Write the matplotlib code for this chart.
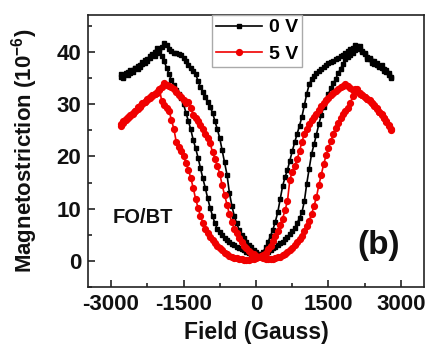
import matplotlib
matplotlib.use("Agg")
import matplotlib.pyplot as plt
from matplotlib.ticker import MultipleLocator

plt.rcParams["font.family"] = ["Liberation Sans", "DejaVu Sans"]
plt.rcParams["font.weight"] = "bold"
plt.rcParams["axes.unicode_minus"] = False
plt.rcParams["mathtext.fontset"] = "custom"
plt.rcParams["mathtext.rm"] = "Liberation Sans:bold"
plt.rcParams["mathtext.it"] = "Liberation Sans:bold"
plt.rcParams["mathtext.bf"] = "Liberation Sans:bold"

# field grid (Gauss), shared by all sweeps
FIELD = [-2800, -2750, -2700, -2650, -2600, -2550, -2500, -2450, -2400, -2350,
         -2300, -2250, -2200, -2150, -2100, -2050, -2000, -1950, -1900, -1850,
         -1800, -1750, -1700, -1650, -1600, -1550, -1500, -1450, -1400, -1350,
         -1300, -1250, -1200, -1150, -1100, -1050, -1000, -950, -900, -850,
         -800, -750, -700, -650, -600, -550, -500, -450, -400, -350,
         -300, -250, -200, -150, -100, -50, 0, 50, 100, 150,
         200, 250, 300, 350, 400, 450, 500, 550, 600, 650,
         700, 750, 800, 850, 900, 950, 1000, 1050, 1100, 1150,
         1200, 1250, 1300, 1350, 1400, 1450, 1500, 1550, 1600, 1650,
         1700, 1750, 1800, 1850, 1900, 1950, 2000, 2050, 2100, 2150,
         2200, 2250, 2300, 2350, 2400, 2450, 2500, 2550, 2600, 2650,
         2700, 2750, 2800]

# 0 V: descending sweep (listed low->high field) and ascending sweep
BLACK_DOWN = [35.3, 35.0, 35.8, 36.2, 35.9, 36.6, 37.0, 36.8, 37.6, 38.1,
              37.9, 38.7, 39.2, 39.6, 40.1, 40.8, 40.2, 39.3, 38.2, 37.0,
              35.8, 34.6, 33.6, 32.8, 32.0, 31.2, 30.0, 28.4, 26.8, 25.2,
              23.2, 21.6, 19.8, 17.8, 15.8, 14.0, 12.0, 10.2, 8.6, 7.2,
              6.1, 5.6, 5.0, 4.4, 4.0, 3.7, 3.3, 3.0, 2.7, 2.5,
              2.2, 2.0, 1.8, 1.6, 1.4, 1.3, 1.2, 1.1, 1.3, 1.8,
              2.6, 3.6, 4.8, 6.0, 7.5, 9.3, 11.8, 14.3, 16.0, 17.4,
              19.2, 21.0, 22.7, 24.3, 25.9, 27.6, 29.8, 32.0, 33.8, 34.8,
              35.4, 35.9, 36.4, 36.8, 37.2, 37.5, 37.9, 38.1, 38.3, 38.6,
              38.9, 39.2, 39.5, 39.9, 40.2, 40.5, 40.8, 41.4, 40.8, 41.2,
              40.0, 39.6, 39.1, 38.6, 38.0, 38.3, 37.6, 37.3, 37.5, 36.7,
              36.2, 35.9, 35.3]
BLACK_UP = [35.8, 35.2, 36.0, 35.6, 36.5, 36.1, 36.9, 37.4, 37.1, 37.8,
            38.5, 38.2, 38.9, 39.5, 39.2, 39.9, 40.5, 40.9, 41.8, 41.3,
            40.6, 40.2, 39.9, 39.8, 39.6, 39.4, 38.9, 38.3, 37.6, 37.0,
            36.4, 35.8, 34.5, 33.3, 32.4, 31.3, 30.4, 29.5, 28.4, 26.8,
            25.2, 23.5, 21.2, 18.9, 16.5, 13.0, 10.6, 8.6, 7.2, 6.0,
            5.0, 4.3, 3.7, 3.1, 2.6, 2.1, 1.7, 1.3, 1.1, 1.3,
            1.6, 1.8, 2.1, 2.4, 2.7, 3.0, 3.4, 3.7, 4.1, 4.6,
            5.2, 5.7, 6.3, 7.2, 8.2, 9.3, 11.4, 14.8, 17.6, 20.5,
            22.3, 24.2, 26.2, 27.9, 29.5, 30.8, 32.0, 33.1, 34.0, 34.9,
            35.9, 36.8, 37.8, 38.6, 39.1, 39.5, 39.8, 40.3, 41.1, 40.5,
            40.2, 39.8, 38.7, 38.9, 38.3, 37.7, 37.9, 37.1, 36.9, 36.4,
            36.6, 35.6, 35.0]

# 5 V
RED_DOWN = [26.3, 26.8, 27.1, 27.6, 27.9, 28.4, 28.8, 29.4, 29.7, 30.2,
            30.5, 31.0, 31.3, 31.7, 32.0, 32.3, 33.0, 30.6, 29.9, 29.3,
            28.8, 27.0, 25.3, 22.8, 21.8, 21.0, 20.0, 18.8, 17.5, 15.9,
            14.0, 11.9, 10.2, 8.6, 7.3, 6.2, 5.3, 4.6, 4.0, 3.4,
            2.9, 2.4, 2.0, 1.6, 1.3, 1.0, 0.8, 0.6, 0.5, 0.4,
            0.3, 0.2, 0.2, 0.2, 0.3, 0.4, 0.5, 0.7, 0.9, 1.1,
            1.6, 2.2, 2.9, 3.8, 4.7, 5.8, 6.9, 8.1, 9.7, 11.4,
            15.5, 17.1, 18.2, 19.5, 21.0, 22.8, 24.3, 25.3, 26.2, 26.9,
            27.6, 28.2, 28.9, 29.6, 30.3, 30.8, 31.2, 31.7, 32.1, 32.6,
            33.0, 33.3, 33.5, 33.8, 33.5, 33.2, 32.8, 33.0, 32.6, 32.0,
            31.7, 31.3, 31.0, 30.7, 30.2, 29.8, 29.1, 28.5, 27.9, 27.3,
            26.8, 26.0, 25.2]
RED_UP = [25.9, 26.5, 26.9, 27.3, 27.8, 28.2, 28.7, 29.1, 29.5, 30.0,
          30.4, 30.8, 31.2, 31.5, 31.9, 32.2, 32.7, 33.3, 34.0, 33.7,
          33.5, 33.3, 33.0, 32.4, 31.8, 31.3, 30.8, 30.3, 30.4, 29.2,
          28.0, 27.4, 26.8, 26.0, 25.2, 24.3, 23.6, 22.6, 20.8, 19.6,
          18.2, 16.7, 14.5, 12.6, 10.8, 8.9, 7.4, 6.2, 5.3, 4.4,
          3.6, 2.9, 2.4, 1.9, 1.6, 1.3, 1.0, 0.8, 0.7, 0.5,
          0.4, 0.3, 0.3, 0.4, 0.5, 0.7, 0.8, 1.1, 1.4, 1.7,
          2.1, 2.5, 3.1, 3.7, 4.2, 4.8, 5.7, 6.7, 7.7, 9.0,
          10.5, 12.2, 14.5, 16.5, 18.5, 20.2, 21.7, 23.0, 24.4, 25.5,
          26.4, 27.4, 28.2, 28.8, 29.3, 30.2, 31.5, 32.5, 32.9, 32.2,
          31.8, 31.4, 31.0, 30.8, 30.3, 29.7, 29.2, 28.6, 28.1, 27.4,
          26.6, 25.9, 25.0]

TXT = "#111111"
RED = "#f00000"


def loop(down, up):
    # +max -> -max, then back to +max
    return FIELD[::-1] + FIELD, down[::-1] + up


fig = plt.figure(figsize=(4.26, 3.47), dpi=100)
ax = fig.add_axes([0.2066, 0.1729, 0.7887, 0.7839])

x0, y0 = loop(BLACK_DOWN, BLACK_UP)
x5, y5 = loop(RED_DOWN, RED_UP)
ax.plot(x0, y0, "-s", color="black", ms=3.5, lw=1.2, label="0 V")
ax.plot(x5, y5, "-o", color=RED, ms=4.2, lw=1.2, label="5 V")

ax.set_xlim(-3476, 3476)
ax.set_ylim(-5, 47.1)
ax.set_xticks([-3000, -1500, 0, 1500, 3000])
ax.set_yticks([0, 10, 20, 30, 40])
ax.xaxis.set_minor_locator(MultipleLocator(750))
ax.yaxis.set_minor_locator(MultipleLocator(5))
ax.tick_params(which="both", direction="in", top=False, right=False,
               labelsize=16, width=1.1, pad=5, colors=TXT)
ax.tick_params(which="major", length=5)
ax.tick_params(which="minor", length=3)
for s in ax.spines.values():
    s.set_linewidth(1.2)
    s.set_color("#222222")

ax.set_xlabel("Field (Gauss)", fontsize=16.5, fontweight="bold", color=TXT,
              labelpad=4)
ax.set_ylabel("Magnetostriction (10$^{-6}$)", fontsize=16,
              fontweight="bold", color=TXT, labelpad=12)

ax.text(-2960, 8.4, "FO/BT", fontsize=14.5, fontweight="bold", color=TXT,
        ha="left", va="center")
ax.text(2545, 2.9, "(b)", fontsize=24, fontweight="bold", color=TXT,
        ha="center", va="center")

ax.legend(loc="upper center", bbox_to_anchor=(0.503, 1.0), frameon=True,
          fancybox=False, edgecolor="#aaaaaa", framealpha=1, numpoints=1,
          handlelength=2.4, handletextpad=0.35, borderpad=0.2,
          labelspacing=0.45, borderaxespad=0,
          prop={"weight": "bold", "size": 14})

fig.savefig("out.png", dpi=100)
